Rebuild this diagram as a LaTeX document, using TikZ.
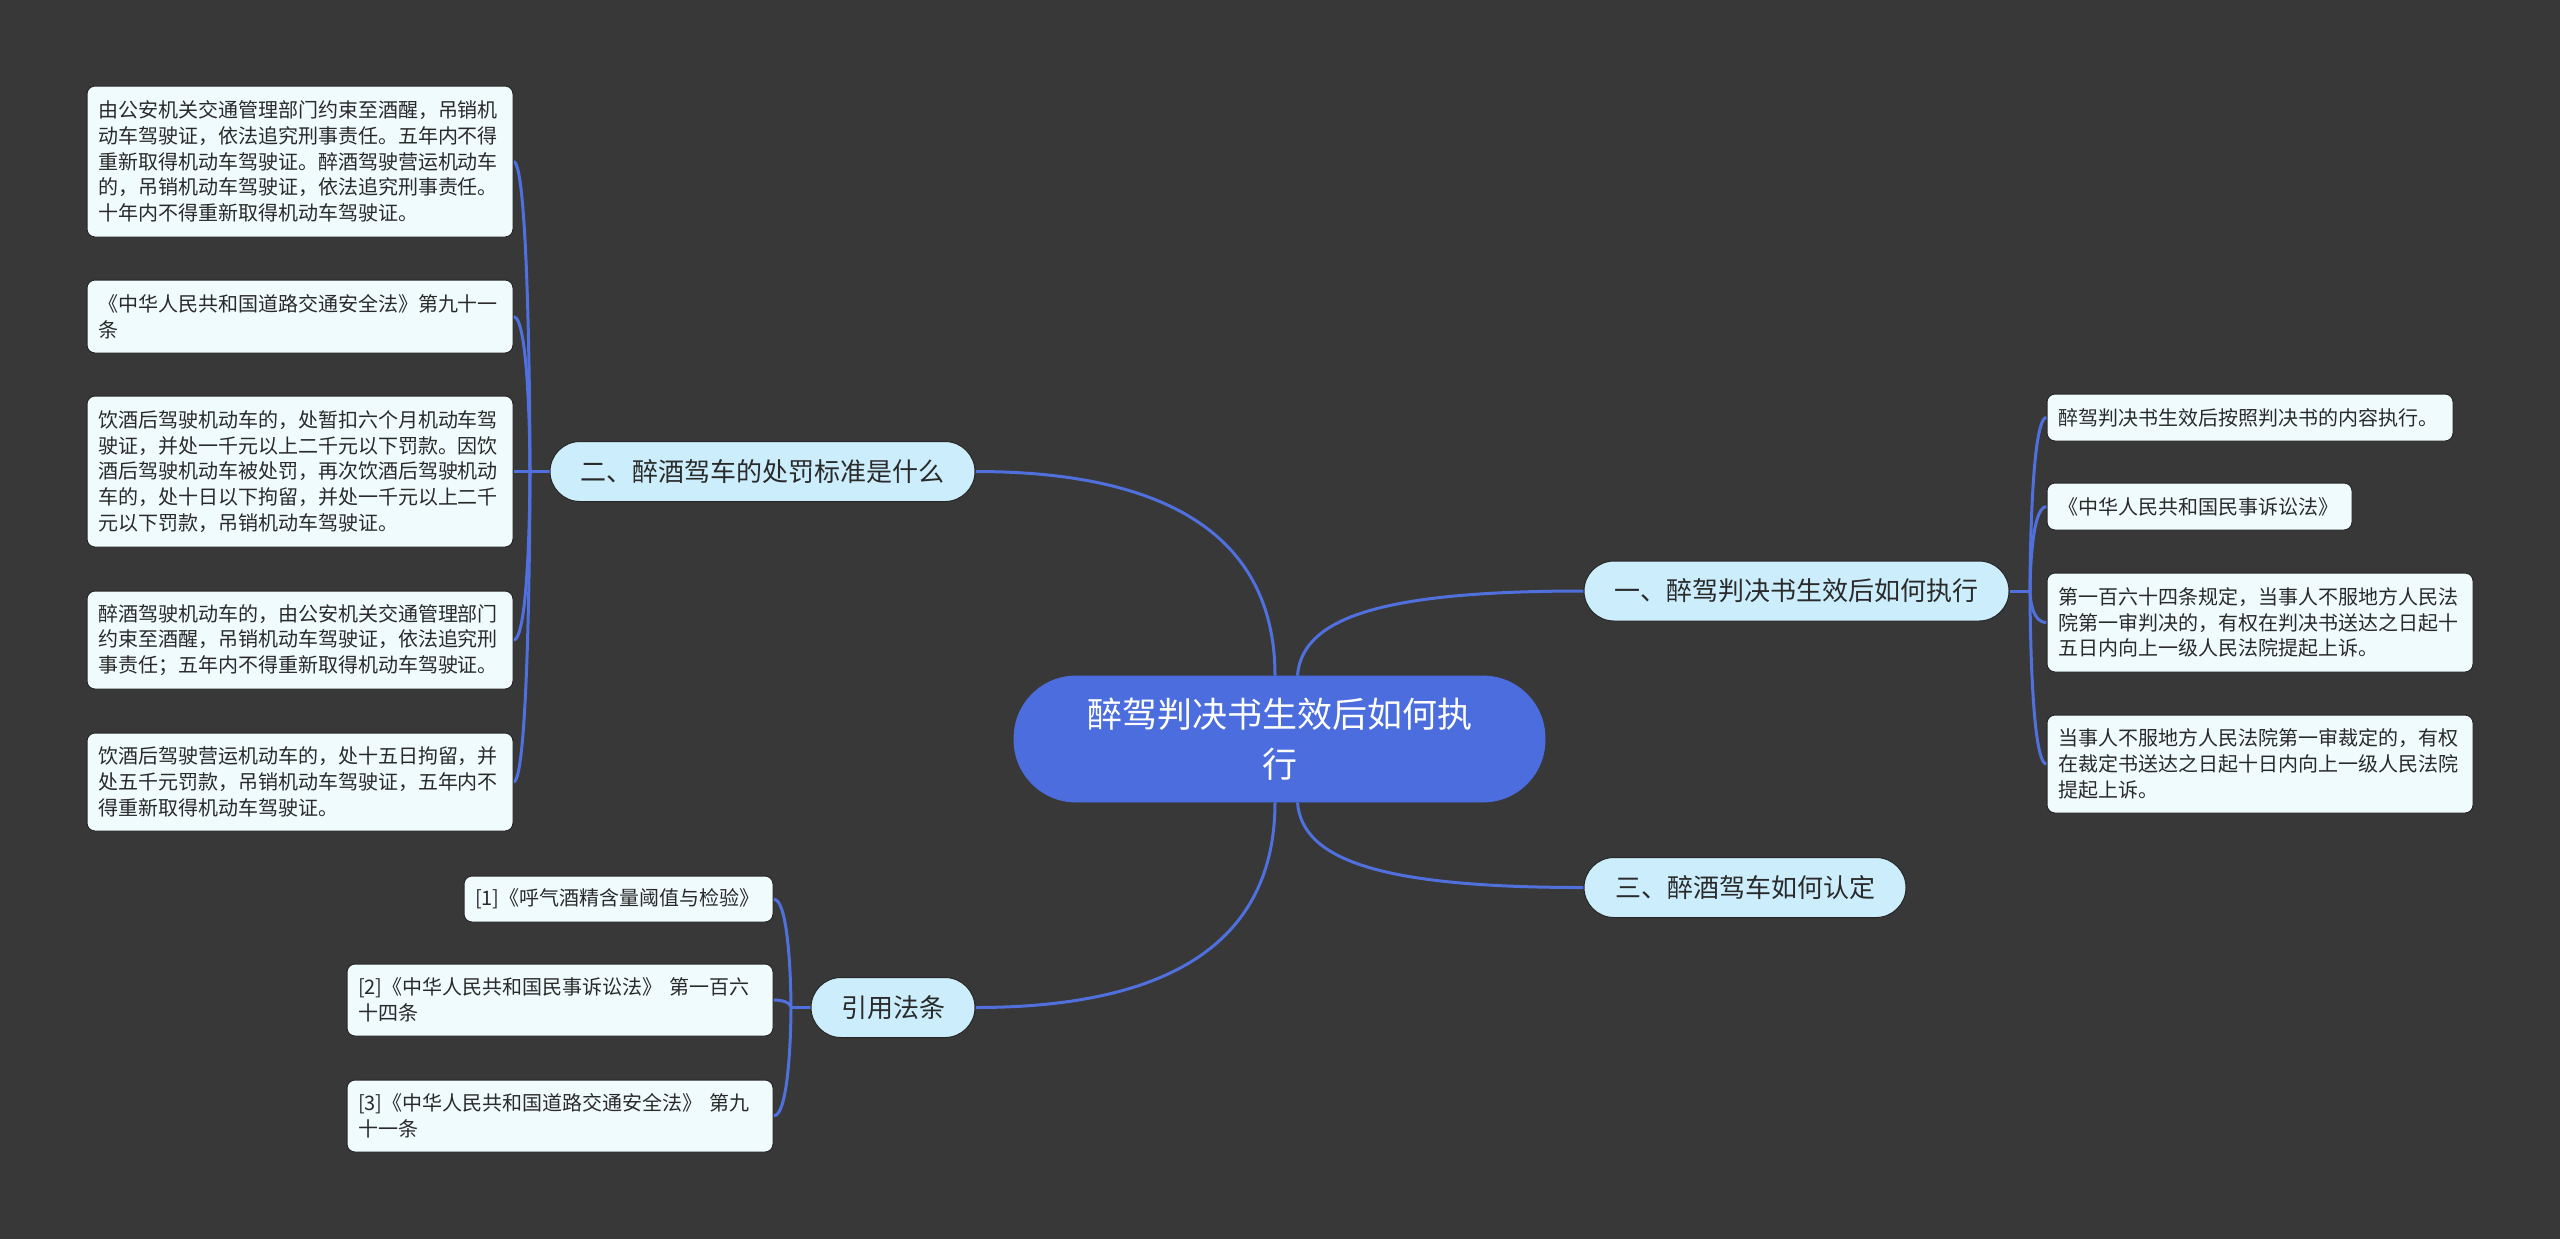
\documentclass[tikz,border=0pt]{standalone}
\usepackage{fontspec}
\newfontfamily\cjk{Noto Sans CJK SC}
\definecolor{bg}{HTML}{393838}
\definecolor{linec}{HTML}{4F70DD}
\definecolor{centerfill}{HTML}{4B6DDE}
\definecolor{branchfill}{HTML}{CCEEFC}
\definecolor{leaffill}{HTML}{F0FBFD}
\definecolor{textc}{HTML}{2A2A2A}
\definecolor{edgec}{HTML}{262626}
\pgfdeclarelayer{bgfill}
\pgfdeclarelayer{links}
\pgfsetlayers{bgfill,links,main}
\begin{document}
\begin{tikzpicture}[x=0.5pt,y=-0.5pt,
  conn/.style={draw=linec, line width=1.5pt},
  leaf/.style={draw=edgec, line width=0.5pt, fill=leaffill, rounded corners=4pt,
    font=\cjk\fontsize{10}{12.85}\selectfont, text=textc, align=left,
    inner xsep=5.5pt, inner ysep=0pt},
  branch/.style={draw=edgec, line width=0.5pt, fill=branchfill, rounded corners=15pt,
    font=\cjk\fontsize{13}{16}\selectfont, text=textc, inner xsep=0pt, inner ysep=0pt,
    minimum height=30pt},
  root/.style={draw=centerfill, fill=centerfill, rounded corners=31pt,
    font=\cjk\fontsize{17.5}{25}\selectfont, text=white, align=center,
    minimum width=265.5pt, minimum height=63pt, inner sep=0pt}
]
\begin{pgfonlayer}{bgfill}
\fill[bg] (0,0) rectangle (2560,1239);
\end{pgfonlayer}
\useasboundingbox (0,0) rectangle (2560,1239);

% junction points
\coordinate (j1) at (2030,591);
\coordinate (j2) at (530,471.5);
\coordinate (j4) at (791,1007.5);

% nodes
\node[root] (c) at (1279.5,739) {醉驾判决书生效后如何执\\行};

\node[branch, minimum width=212.5pt] (n1) at (1796.5,591) {一、醉驾判决书生效后如何执行};
\node[branch, minimum width=212.5pt] (n2) at (762.5,471.5) {二、醉酒驾车的处罚标准是什么};
\node[branch, minimum width=161pt] (n3) at (1745,887.5) {三、醉酒驾车如何认定};
\node[branch, minimum width=82pt] (n4) at (893,1007.5) {引用法条};

\node[leaf, text width=202pt, minimum height=75.5pt] (L1) at (300,161.5)
 {由公安机关交通管理部门约束至酒醒，吊销机\\动车驾驶证，依法追究刑事责任。五年内不得\\重新取得机动车驾驶证。醉酒驾驶营运机动车\\的，吊销机动车驾驶证，依法追究刑事责任。\\十年内不得重新取得机动车驾驶证。};
\node[leaf, text width=202pt, minimum height=36.5pt] (L2) at (300,316.5)
 {《中华人民共和国道路交通安全法》第九十一\\条};
\node[leaf, text width=202pt, minimum height=75.5pt] (L3) at (300,471.5)
 {饮酒后驾驶机动车的，处暂扣六个月机动车驾\\驶证，并处一千元以上二千元以下罚款。因饮\\酒后驾驶机动车被处罚，再次饮酒后驾驶机动\\车的，处十日以下拘留，并处一千元以上二千\\元以下罚款，吊销机动车驾驶证。};
\node[leaf, text width=202pt, minimum height=49pt] (L4) at (300,640)
 {醉酒驾驶机动车的，由公安机关交通管理部门\\约束至酒醒，吊销机动车驾驶证，依法追究刑\\事责任；五年内不得重新取得机动车驾驶证。};
\node[leaf, text width=202pt, minimum height=49pt] (L5) at (300,782)
 {饮酒后驾驶营运机动车的，处十五日拘留，并\\处五千元罚款，吊销机动车驾驶证，五年内不\\得重新取得机动车驾驶证。};

\node[leaf, text width=192pt, minimum height=23.5pt] (R1) at (2250,417.5)
 {醉驾判决书生效后按照判决书的内容执行。};
\node[leaf, text width=141.5pt, minimum height=23.5pt] (R2) at (2199.5,506.5)
 {《中华人民共和国民事诉讼法》};
\node[leaf, text width=202pt, minimum height=49.5pt] (R3) at (2260,622.5)
 {第一百六十四条规定，当事人不服地方人民法\\院第一审判决的，有权在判决书送达之日起十\\五日内向上一级人民法院提起上诉。};
\node[leaf, text width=202pt, minimum height=49pt] (R4) at (2260,764)
 {当事人不服地方人民法院第一审裁定的，有权\\在裁定书送达之日起十日内向上一级人民法院\\提起上诉。};

\node[leaf, text width=143.5pt, minimum height=23pt] (B1) at (618.5,899)
 {[1]《呼气酒精含量阈值与检验》};
\node[leaf, text width=202pt, minimum height=36pt] (B2) at (560,1000)
 {[2]《中华人民共和国民事诉讼法》 第一百六\\十四条};
\node[leaf, text width=202pt, minimum height=36pt] (B3) at (560,1116)
 {[3]《中华人民共和国道路交通安全法》 第九\\十一条};

% connectors behind nodes
\begin{pgfonlayer}{links}
% root to main branches
\draw[conn] ([xshift=-2.25pt]c.north) .. controls (1275,560) and (1200,471.5) .. (n2.east);
\draw[conn] ([xshift=9pt]c.north) .. controls (1302,615) and (1390,591) .. (n1.west);
\draw[conn] ([xshift=9pt]c.south) .. controls (1302,863) and (1390,887.5) .. (n3.west);
\draw[conn] ([xshift=-2.25pt]c.south) .. controls (1275,920) and (1200,1007.5) .. (n4.east);
% left bracket
\draw[conn] (n2.west) -- (j2);
\foreach \n in {L1,L2,L3,L4,L5}
  \draw[conn] (\n.east) .. controls (\n.east -| j2) and (j2) .. (j2);
% right bracket
\draw[conn] (n1.east) -- (j1);
\foreach \n in {R1,R2,R3,R4}
  \draw[conn] (\n.west) .. controls (\n.west -| j1) and (j1) .. (j1);
% bottom bracket
\draw[conn] (n4.west) -- (j4);
\foreach \n in {B1,B2,B3}
  \draw[conn] (\n.east) .. controls (\n.east -| j4) and (j4) .. (j4);
\end{pgfonlayer}
\end{tikzpicture}
\end{document}
